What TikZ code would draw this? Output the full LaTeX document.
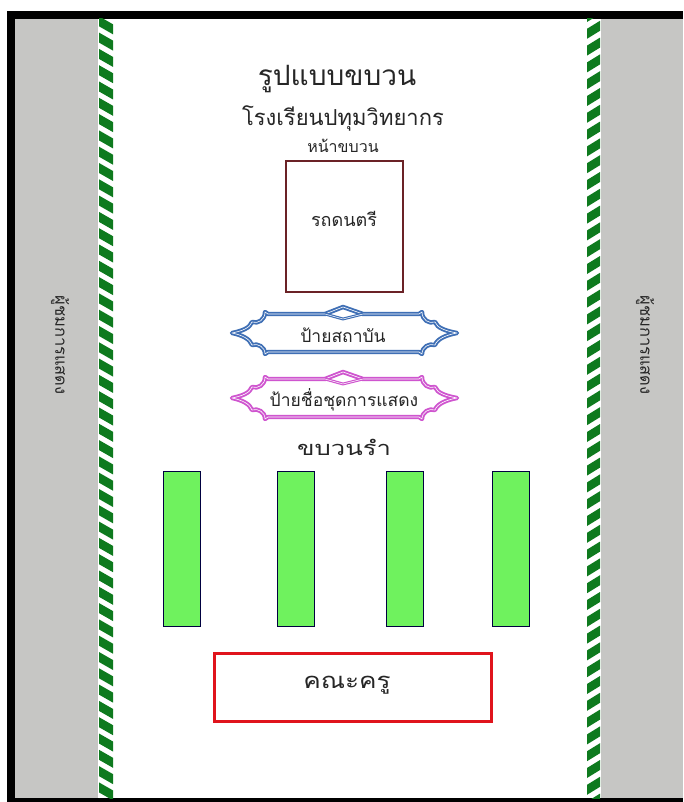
\documentclass[tikz,border=0pt]{standalone}
\usepackage{fontspec}
\newfontfamily\thaifont[Script=Thai]{Loma}
\definecolor{sidegray}{HTML}{C6C6C4}
\definecolor{stripegreen}{HTML}{0E7A1E}
\definecolor{dancegreen}{HTML}{6FF25E}
\definecolor{bandred}{HTML}{6B2226}
\definecolor{signblue}{HTML}{3F6FB5}
\definecolor{signpink}{HTML}{CF55CF}
\definecolor{teacherred}{HTML}{E0141C}
\tikzset{
  x=1pt,y=-1pt,
  thai/.style={font=\thaifont\fontsize{#1}{#1}\selectfont,text=black!85,inner sep=0pt},
  dancer/.style={draw=black!75!blue,line width=1pt,fill=dancegreen,minimum width=37pt,minimum height=155pt,inner sep=0pt},
  signline/.style={draw=#1,line width=1.9pt,double=white,double distance=0.6pt,line join=round}
}
\newcommand{\signshape}[2]{%
  \begin{scope}[yshift=-#1pt]
    \draw[signline=#2,fill=white] (232,333)
      .. controls (242,331) and (250,328) .. (252,322)
      .. controls (258,324) and (265,320) .. (265,312)
      -- (268,314) -- (325,314) -- (343,307) -- (363,314) -- (419,314) -- (422,312)
      .. controls (422,320) and (429,324) .. (435,322)
      .. controls (437,328) and (446,331) .. (457,333)
      .. controls (446,335) and (437,339) .. (435,345)
      .. controls (429,343) and (422,347) .. (422,354)
      -- (419,352) -- (268,352) -- (265,354)
      .. controls (265,347) and (258,343) .. (252,345)
      .. controls (250,339) and (242,335) .. (232,333) -- cycle;
    \draw[signline=#2,line width=1.2pt,double distance=.5pt] (325,314) -- (343,319) -- (363,314);
  \end{scope}}
\begin{document}
\begin{tikzpicture}
\useasboundingbox (0,0) rectangle (683,802);
\fill[white] (0,0) rectangle (683,802);
% frame
\fill[black] (7,11) rectangle (683,802);
\fill[white] (15,19) rectangle (683,798);
% side bands
\fill[sidegray] (15,19) rectangle (98,798);
\fill[sidegray] (601,19) rectangle (683,798);
% stripes
\begin{scope}
  \clip (99,19) rectangle (113,798);
  \foreach \y in {0,16.3,...,820}
    \fill[stripegreen] (99,\y) -- (113,\y+8) -- (113,\y+18) -- (99,\y+10) -- cycle;
\end{scope}
\begin{scope}
  \clip (587,19) rectangle (600,798);
  \foreach \y in {0,16.8,...,820}
    \fill[stripegreen] (587,\y+12) -- (600,\y+4) -- (600,\y+14) -- (587,\y+22) -- cycle;
\end{scope}
% side labels
\node[thai=16.5,rotate=-90] (audienceL) at (60,345) {ผู้ชมการแสดง};
\node[thai=16.5,rotate=-90] (audienceR) at (645,345) {ผู้ชมการแสดง};
% headings
\node[thai=28] (title) at (337,79) {รูปแบบขบวน};
\node[thai=22] (school) at (343,118) {โรงเรียนปทุมวิทยากร};
\node[thai=16] (front) at (343,146) {หน้าขบวน};
% band truck
\node[draw=bandred,line width=1.2pt,minimum width=117pt,minimum height=131pt,inner sep=0pt,fill=white] (truck) at (344.5,226.5) {};
\node[thai=18] (trucklabel) at (344,219) {รถดนตรี};
% signs
\signshape{0}{signblue}
\signshape{65}{signpink}
\node[thai=17.5] (sign1) at (343,335) {ป้ายสถาบัน};
\node[thai=17.5] (sign2) at (344,400) {ป้ายชื่อชุดการแสดง};
\node[thai=20,xscale=1.28] (dance) at (344,447) {ขบวนรำ};
% dancers
\node[dancer] (d1) at (181.5,548.5) {};
\node[dancer] (d2) at (295.5,548.5) {};
\node[dancer] (d3) at (404.5,548.5) {};
\node[dancer] (d4) at (510.5,548.5) {};
% teachers
\node[draw=teacherred,line width=3pt,minimum width=277pt,minimum height=68pt,inner sep=0pt] (teachers) at (352.5,687) {};
\node[thai=22,xscale=1.19] (teacherlabel) at (347,685) {คณะครู};
\end{tikzpicture}
\end{document}
